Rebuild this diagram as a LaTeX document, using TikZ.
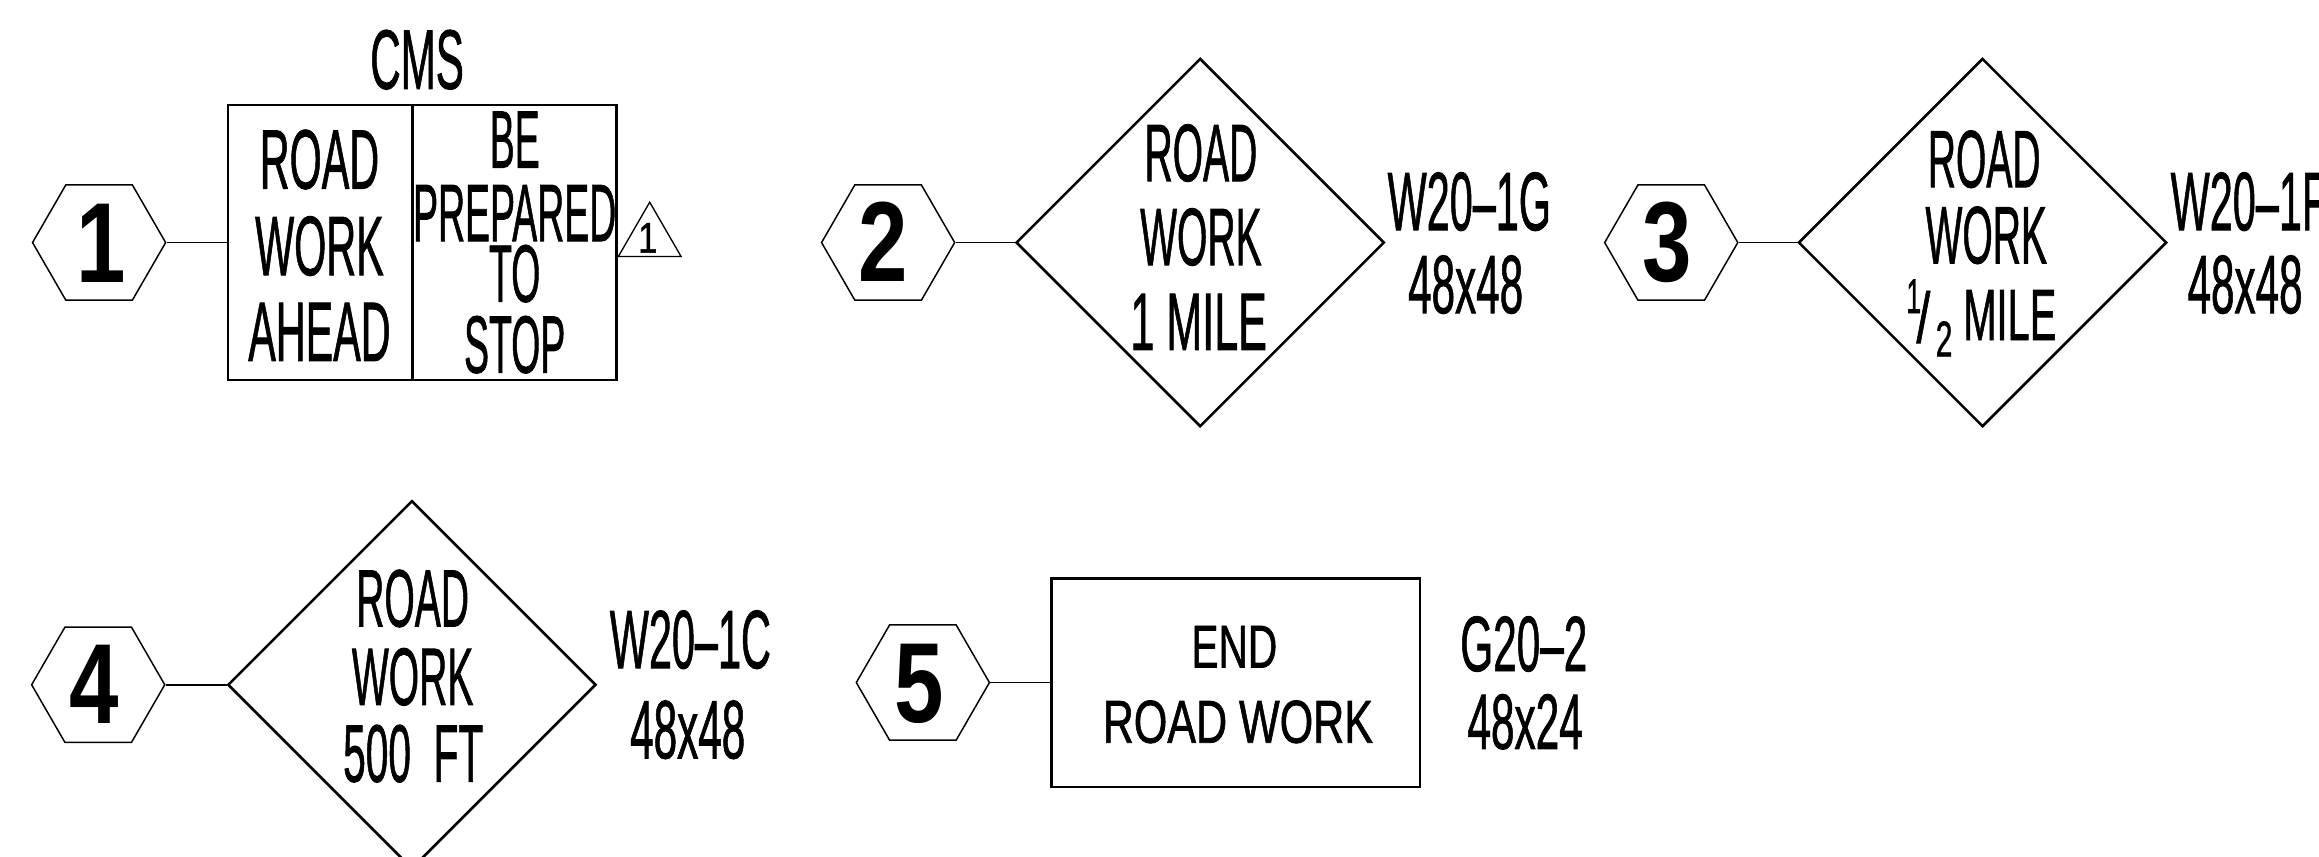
\documentclass[tikz,border=0pt]{standalone}
\usepackage{fontspec}
\usepackage{graphicx}
\setmainfont{Liberation Sans}
\newfontfamily\sgfont[FakeBold=1.2]{Liberation Sans}
\usetikzlibrary{shapes.geometric}
\newcommand\sgtext[3]{{\sgfont\fontsize{#2}{#2}\selectfont\scalebox{#1}[1]{#3}}}
\newcommand\hexdig[1]{{\fontsize{77}{77}\selectfont\bfseries\scalebox{0.78}[1]{#1}}}
\begin{document}
\begin{tikzpicture}[x=1pt,y=-1pt,
  hexa/.style={regular polygon, regular polygon sides=6, minimum size=90pt, inner sep=0pt, draw, line width=1pt},
  tri/.style={regular polygon, regular polygon sides=3, minimum size=49pt, inner sep=0pt, draw, line width=0.9pt},
  dia/.style={diamond, draw, line width=1.7pt, minimum width=249pt, minimum height=249pt, inner sep=0pt},
  signbox/.style={rectangle, draw, line width=1.7pt, inner sep=0pt},
  boxline/.style={line width=1.7pt},
  conn/.style={line width=1pt},
  txt/.style={inner sep=0pt, anchor=base},
  txtw/.style={inner sep=0pt, anchor=base west}]
\useasboundingbox (0,0) rectangle (1568,579);

% ---------- sign 1 : CMS ----------
\node[hexa] (h1) at (67,164) {};
\node[txt] (n1) at (68.5,191) {\hexdig{1}};
\node[signbox, minimum width=263pt, minimum height=186pt] (cms) at (285.5,164) {};
\coordinate (cmsdivtop) at (279,71);
\coordinate (cmsdivbot) at (279,257);
\draw[boxline] (cmsdivtop) -- (cmsdivbot);
\draw[conn] (h1.east) -- (cms.west);
\node[txt] (cmst) at (282,60) {\sgtext{0.5}{57}{CMS}};
\node[txt] (c1a) at (216,127.5) {\sgtext{0.49}{57}{ROAD}};
\node[txt] (c1b) at (216,186) {\sgtext{0.49}{57}{WORK}};
\node[txt] (c1c) at (216,244) {\sgtext{0.49}{57}{AHEAD}};
\node[txt] (c2a) at (348,113.3) {\sgtext{0.46}{55}{BE}};
\node[txt] (c2b) at (348,163) {\sgtext{0.46}{55}{PREPARED}};
\node[txt] (c2c) at (348,204) {\sgtext{0.46}{55}{TO}};
\node[txt] (c2d) at (348,252) {\sgtext{0.46}{55}{STOP}};
\node[tri] (tri1) at (439.3,161.2) {};
\node[txt] (tri1n) at (438,170.8) {\sgtext{0.8}{29}{1}};

% ---------- sign 2 ----------
\node[hexa] (h2) at (600.5,164) {};
\node[txt] (n2) at (597.5,190) {\hexdig{2}};
\node[dia] (d2) at (811.5,164) {};
\draw[conn] (h2.east) -- (d2.west);
\node[txt] (d2a) at (812,122.4) {\sgtext{0.48}{55}{ROAD}};
\node[txt] (d2b) at (812,179.2) {\sgtext{0.48}{55}{WORK}};
\node[txt] (d2c) at (810.5,236.6) {\sgtext{0.53}{55}{1 MILE}};
\node[txt] (l2a) at (993.5,155.6) {\sgtext{0.5}{56}{W20–1G}};
\node[txt] (l2b) at (991,211.7) {\sgtext{0.51}{56}{48x48}};

% ---------- sign 3 ----------
\node[hexa] (h3) at (1130,164) {};
\node[txt] (n3) at (1127.3,190) {\hexdig{3}};
\node[dia] (d3) at (1340.5,164) {};
\draw[conn] (h3.east) -- (d3.west);
\node[txt] (d3a) at (1341.6,126.6) {\sgtext{0.48}{55}{ROAD}};
\node[txt] (d3b) at (1343,178) {\sgtext{0.48}{55}{WORK}};
\node[txt] (d3f1) at (1294,211.7) {\sgtext{0.55}{33}{1}};
\node[txt] (d3fs) at (1300.5,231.5) {\sgtext{0.7}{48}{/}};
\node[txt] (d3f2) at (1314.5,241) {\sgtext{0.6}{34}{2}};
\node[txtw] (d3c) at (1327.3,229.9) {\sgtext{0.55}{49}{MILE}};
\node[txtw] (l3a) at (1467.5,155.6) {\sgtext{0.5}{56}{W20–1F}};
\node[txt] (l3b) at (1518,211.7) {\sgtext{0.51}{56}{48x48}};

% ---------- sign 4 ----------
\node[hexa] (h4) at (66.4,463) {};
\node[txt] (n4) at (63.5,489) {\hexdig{4}};
\node[dia] (d4) at (278.5,463) {};
\draw[conn] (h4.east) -- (d4.west);
\node[txt] (d4a) at (279,423.6) {\sgtext{0.48}{55}{ROAD}};
\node[txt] (d4b) at (279,476.6) {\sgtext{0.48}{55}{WORK}};
\node[txt] (d4c) at (279.4,528.5) {\sgtext{0.5}{55}{500~~FT}};
\node[txt] (l4a) at (466.8,451.8) {\sgtext{0.5}{56}{W20–1C}};
\node[txt] (l4b) at (465,512.7) {\sgtext{0.51}{56}{48x48}};

% ---------- sign 5 ----------
\node[hexa] (h5) at (624,461.5) {};
\node[txt] (n5) at (621.7,488.4) {\hexdig{5}};
\node[signbox, minimum width=249pt, minimum height=141pt] (r5) at (835.5,461.5) {};
\draw[conn] (h5.east) -- (r5.west);
\node[txt] (r5a) at (834.6,451.4) {\sgtext{0.67}{41}{END}};
\node[txt] (r5b) at (837,502.2) {\sgtext{0.71}{41}{ROAD WORK}};
\node[txt] (l5a) at (1030.3,453.7) {\sgtext{0.54}{53}{G20–2}};
\node[txt] (l5b) at (1031.2,506.3) {\sgtext{0.54}{53}{48x24}};
\end{tikzpicture}
\end{document}
